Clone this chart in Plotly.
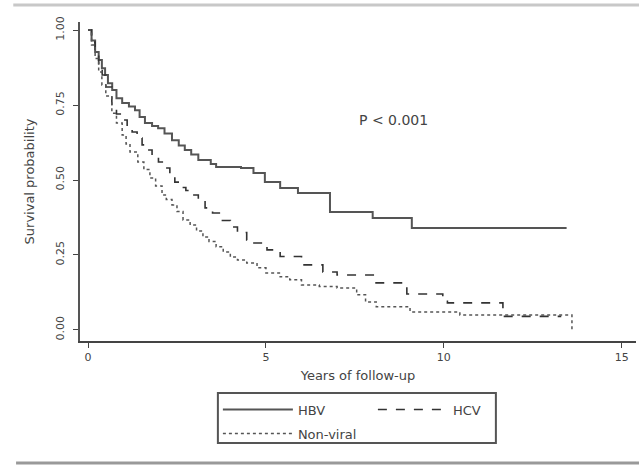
import plotly.graph_objects as go

# Kaplan-Meier style step data
hbv_t = [0, 0.1, 0.2, 0.3, 0.39, 0.48, 0.56, 0.68, 0.8, 0.96, 1.15, 1.32, 1.45, 1.6, 1.8, 1.97,
         2.15, 2.36, 2.55, 2.72, 2.9, 3.1, 3.45, 3.6, 4.3, 4.65, 4.97, 5.4, 5.9, 6.8, 8.0, 9.1, 13.45]
hbv_s = [1.0, 0.965, 0.927, 0.90, 0.873, 0.85, 0.823, 0.80, 0.773, 0.757, 0.745, 0.733, 0.71, 0.69,
         0.68, 0.673, 0.655, 0.633, 0.615, 0.60, 0.585, 0.567, 0.553, 0.543, 0.54, 0.523, 0.493,
         0.473, 0.457, 0.393, 0.373, 0.34, 0.34]

hcv_t = [0, 0.1, 0.2, 0.3, 0.4, 0.5, 0.67, 0.8, 0.96, 1.1, 1.24, 1.38, 1.52, 1.66, 1.8, 1.98,
         2.16, 2.3, 2.44, 2.6, 2.75, 2.92, 3.1, 3.29, 3.5, 3.75, 4.0, 4.2, 4.46, 4.64, 5.03, 5.4,
         6.0, 6.6, 7.0, 8.06, 8.96, 9.97, 10.1, 11.66, 13.3]
hcv_s = [1.0, 0.96, 0.92, 0.885, 0.85, 0.81, 0.743, 0.72, 0.70, 0.68, 0.66, 0.64, 0.617, 0.60,
         0.583, 0.56, 0.54, 0.515, 0.493, 0.475, 0.465, 0.45, 0.43, 0.407, 0.39, 0.365, 0.343,
         0.325, 0.30, 0.29, 0.267, 0.245, 0.217, 0.193, 0.183, 0.157, 0.12, 0.095, 0.09, 0.045, 0.045]

nv_t = [0, 0.1, 0.2, 0.3, 0.39, 0.5, 0.67, 0.8, 0.96, 1.07, 1.18, 1.4, 1.57, 1.74, 1.9, 2.08,
        2.2, 2.36, 2.5, 2.67, 2.87, 3.05, 3.23, 3.4, 3.6, 3.8, 4.0, 4.2, 4.46, 4.75, 5.0, 5.4,
        5.67, 6.0, 6.5, 7.0, 7.55, 7.8, 8.1, 9.05, 10.45, 13.6]
nv_s = [1.0, 0.95, 0.905, 0.86, 0.817, 0.78, 0.723, 0.69, 0.65, 0.62, 0.593, 0.56, 0.535, 0.507,
        0.48, 0.45, 0.435, 0.417, 0.395, 0.367, 0.35, 0.33, 0.31, 0.295, 0.277, 0.26, 0.243,
        0.233, 0.223, 0.207, 0.19, 0.177, 0.167, 0.15, 0.145, 0.14, 0.117, 0.093, 0.077, 0.06,
        0.05, 0.0]

x_ticks = [0, 5, 10, 15]
y_ticks = [0.0, 0.25, 0.5, 0.75, 1.0]
y_tick_labels = ["0.00", "0.25", "0.50", "0.75", "1.00"]

FONT = "DejaVu Sans, Liberation Sans, sans-serif"
TXT = "#444444"

fig = go.Figure()
fig.add_trace(go.Scatter(x=hbv_t, y=hbv_s, name="HBV", mode="lines", line_shape="hv",
                         line=dict(color="#555555", width=2), legend="legend"))
fig.add_trace(go.Scatter(x=hcv_t, y=hcv_s, name="HCV", mode="lines", line_shape="hv",
                         line=dict(color="#333333", width=1.6, dash="dash"), legend="legend"))
fig.add_trace(go.Scatter(x=nv_t, y=nv_s, name="Non-viral", mode="lines", line_shape="hv",
                         line=dict(color="#555555", width=1.5, dash="dot"), legend="legend2"))

fig.update_layout(
    template="none",
    width=639, height=466,
    margin=dict(l=80, r=3, t=22, b=125),
    paper_bgcolor="white", plot_bgcolor="white",
    font=dict(family=FONT, color=TXT, size=11),
    legend=dict(orientation="h", x=0.248, xanchor="left", y=-0.168, yanchor="top",
                entrywidth=70, itemwidth=70, bgcolor="rgba(0,0,0,0)",
                font=dict(size=13, color=TXT, family=FONT)),
    legend2=dict(orientation="h", x=0.248, xanchor="left", y=-0.243, yanchor="top",
                 itemwidth=70, bgcolor="rgba(0,0,0,0)",
                 font=dict(size=13, color=TXT, family=FONT)),
    xaxis=dict(range=[-0.225, 15.4], tickvals=x_ticks, ticks="outside", ticklen=5,
               tickcolor="#444", showline=True, linecolor="#444", linewidth=2,
               showgrid=False, zeroline=False, tickfont=dict(size=11, color=TXT),
               automargin=False,
               title=dict(text="Years of follow-up", font=dict(size=13, color=TXT), standoff=8)),
    yaxis=dict(range=[-0.037, 1.027], tickvals=y_ticks, ticktext=y_tick_labels,
               ticks="outside", ticklen=5, tickcolor="#444", tickangle=-90,
               ticklabelstandoff=5,
               showline=True, linecolor="#555", linewidth=2, showgrid=False, zeroline=False,
               tickfont=dict(size=11, color=TXT), automargin=False,
               title=dict(text="Survival probability", font=dict(size=13, color=TXT), standoff=16)),
    annotations=[dict(x=7.55, y=0.70, xref="x", yref="y", text="P < 0.001", showarrow=False,
                      xanchor="left", yanchor="middle", font=dict(size=14, color=TXT))],
    shapes=[
        dict(type="rect", xref="paper", yref="paper", x0=0.248, x1=0.748,
             y0=(341 - 443) / 319, y1=(341 - 393) / 319, line=dict(color="#555", width=2)),
        dict(type="line", xref="paper", yref="paper", x0=-0.12, x1=1.01,
             y0=(341 - 5) / 319, y1=(341 - 5) / 319, line=dict(color="#c8c8c8", width=3)),
        dict(type="line", xref="paper", yref="paper", x0=-0.115, x1=1.01,
             y0=(341 - 463) / 319, y1=(341 - 463) / 319, line=dict(color="#999999", width=3)),
    ],
)

fig.write_html("out.html", config={"displayModeBar": False},
               post_script="document.body.style.margin='0';document.body.style.padding='0';")
